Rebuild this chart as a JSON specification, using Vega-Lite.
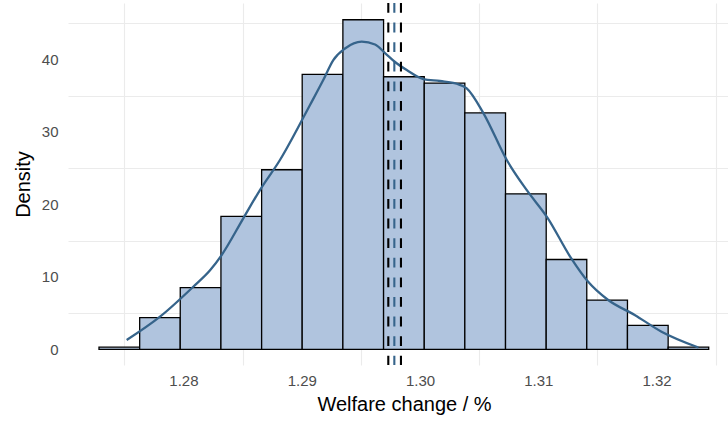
{
  "$schema": "https://vega.github.io/schema/vega-lite/v6.json",
  "width": 660,
  "height": 362,
  "autosize": {"type": "none"},
  "padding": {"left": 68, "top": 3, "right": 0, "bottom": 60},
  "background": "white",
  "config": {
    "view": {"stroke": null},
    "font": "Liberation Sans",
    "axis": {
      "domain": false,
      "ticks": false,
      "tickSize": 0,
      "gridColor": "#EBEBEB",
      "labelFont": "Liberation Sans",
      "titleFont": "Liberation Sans",
      "labelColor": "#4D4D4D",
      "labelFontSize": 15,
      "titleFontSize": 20,
      "titleFontWeight": "normal",
      "titleColor": "#000000"
    }
  },
  "datasets": {
    "bins": [
      {"bin_start": 1.27286, "bin_end": 1.27630, "density": 0.29},
      {"bin_start": 1.27630, "bin_end": 1.27973, "density": 4.36},
      {"bin_start": 1.27973, "bin_end": 1.28317, "density": 8.5},
      {"bin_start": 1.28317, "bin_end": 1.28661, "density": 18.34},
      {"bin_start": 1.28661, "bin_end": 1.29004, "density": 24.77},
      {"bin_start": 1.29004, "bin_end": 1.29348, "density": 37.93},
      {"bin_start": 1.29348, "bin_end": 1.29692, "density": 45.46},
      {"bin_start": 1.29692, "bin_end": 1.30036, "density": 37.6},
      {"bin_start": 1.30036, "bin_end": 1.30379, "density": 36.73},
      {"bin_start": 1.30379, "bin_end": 1.30723, "density": 32.6},
      {"bin_start": 1.30723, "bin_end": 1.31067, "density": 21.45},
      {"bin_start": 1.31067, "bin_end": 1.31410, "density": 12.39},
      {"bin_start": 1.31410, "bin_end": 1.31754, "density": 6.79},
      {"bin_start": 1.31754, "bin_end": 1.32098, "density": 3.31},
      {"bin_start": 1.32098, "bin_end": 1.32441, "density": 0.29}
    ],
    "kde": [
      {"welfare": 1.27520, "density": 1.28},
      {"welfare": 1.27802, "density": 4.5},
      {"welfare": 1.28083, "density": 8.63},
      {"welfare": 1.28225, "density": 10.9},
      {"welfare": 1.28323, "density": 13.0},
      {"welfare": 1.28506, "density": 18.07},
      {"welfare": 1.28647, "density": 21.97},
      {"welfare": 1.28816, "density": 26.11},
      {"welfare": 1.29070, "density": 33.7},
      {"welfare": 1.29182, "density": 37.14},
      {"welfare": 1.29267, "density": 39.9},
      {"welfare": 1.29366, "density": 41.49},
      {"welfare": 1.29507, "density": 42.43},
      {"welfare": 1.29620, "density": 42.04},
      {"welfare": 1.29704, "density": 40.87},
      {"welfare": 1.29789, "density": 39.63},
      {"welfare": 1.29888, "density": 38.52},
      {"welfare": 1.30028, "density": 37.28},
      {"welfare": 1.30169, "density": 37.01},
      {"welfare": 1.30310, "density": 36.63},
      {"welfare": 1.30395, "density": 36.0},
      {"welfare": 1.30538, "density": 32.52},
      {"welfare": 1.30736, "density": 26.04},
      {"welfare": 1.30906, "density": 21.88},
      {"welfare": 1.31077, "density": 18.17},
      {"welfare": 1.31276, "density": 12.61},
      {"welfare": 1.31418, "density": 9.38},
      {"welfare": 1.31588, "density": 6.83},
      {"welfare": 1.31815, "density": 4.74},
      {"welfare": 1.32042, "density": 2.43},
      {"welfare": 1.32354, "density": 0.25}
    ],
    "summary": [
      {"stat": "lower", "welfare": 1.29732},
      {"stat": "upper", "welfare": 1.29839},
      {"stat": "mean", "welfare": 1.29783}
    ]
  },
  "resolve": {"axis": {"x": "independent", "y": "independent"}},
  "layer": [
    {
      "data": {"name": "bins"},
      "mark": {"type": "rect", "fill": "#B0C4DE", "stroke": "#000000", "strokeWidth": 1.3},
      "encoding": {
        "x": {
          "field": "bin_start", "type": "quantitative",
          "scale": {"domain": [1.27024, 1.32604], "nice": false, "zero": false},
          "axis": {"orient": "bottom", "values": [1.275, 1.285, 1.295, 1.305, 1.315, 1.325], "labels": false, "title": null, "gridWidth": 1.1}
        },
        "x2": {"field": "bin_end"},
        "y": {
          "field": "density", "type": "quantitative",
          "scale": {"domain": [-2.166, 47.77], "nice": false, "zero": false},
          "axis": {"orient": "left", "values": [5, 15, 25, 35, 45], "labels": false, "title": null, "gridWidth": 1.1}
        },
        "y2": {"datum": 0}
      }
    },
    {
      "data": {"name": "kde"},
      "mark": {"type": "line", "interpolate": "monotone", "color": "#36648B", "strokeWidth": 2.3},
      "encoding": {
        "x": {
          "field": "welfare", "type": "quantitative",
          "axis": {"orient": "bottom", "values": [1.28, 1.29, 1.30, 1.31, 1.32], "format": ".2f", "title": "Welfare change / %", "labelPadding": 8, "titlePadding": 6, "gridWidth": 2.2, "titleX": 336}
        },
        "y": {
          "field": "density", "type": "quantitative",
          "axis": {"orient": "left", "values": [0, 10, 20, 30, 40], "title": "Density", "labelPadding": 10, "titlePadding": 8, "gridWidth": 2.2}
        }
      }
    },
    {
      "data": {"name": "summary"},
      "mark": {"type": "rule", "strokeWidth": 2.1, "strokeDash": [9.8, 9.8]},
      "encoding": {
        "x": {"field": "welfare", "type": "quantitative", "axis": null},
        "color": {
          "field": "stat", "type": "nominal",
          "scale": {"domain": ["lower", "upper", "mean"], "range": ["#000000", "#000000", "#36648B"]},
          "legend": null
        }
      }
    }
  ]
}
